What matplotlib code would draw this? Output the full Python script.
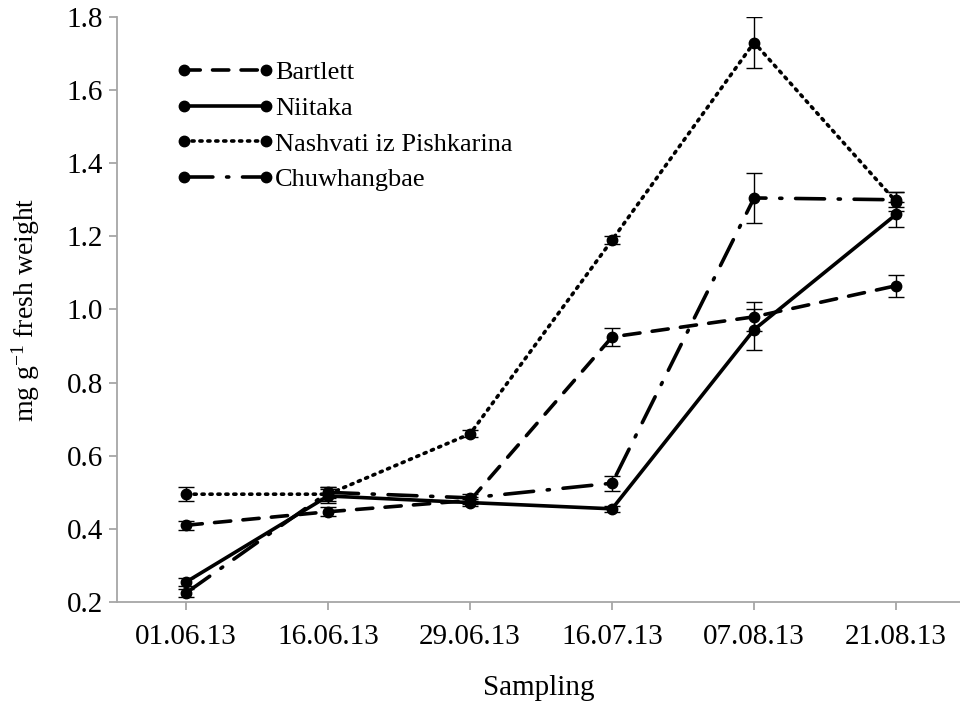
import matplotlib.pyplot as plt
import numpy as np

dates = ["01.06.13", "16.06.13", "29.06.13", "16.07.13", "07.08.13", "21.08.13"]

bartlett = [0.41, 0.447, 0.478, 0.925, 0.98, 1.065]
bartlett_err = [0.012, 0.012, 0.01, 0.025, 0.04, 0.03]

niitaka = [0.255, 0.49, 0.472, 0.455, 0.945, 1.26]
niitaka_err = [0.01, 0.02, 0.01, 0.008, 0.055, 0.035]

nashvati = [0.495, 0.495, 0.66, 1.19, 1.73, 1.295]
nashvati_err = [0.02, 0.02, 0.01, 0.01, 0.07, 0.025]

chuwhangbae = [0.225, 0.5, 0.485, 0.525, 1.305, 1.3]
chuwhangbae_err = [0.012, 0.015, 0.01, 0.02, 0.068, 0.02]

plt.rcParams["font.family"] = ["Liberation Serif", "DejaVu Serif"]
plt.rcParams["mathtext.fontset"] = "custom"
plt.rcParams["mathtext.rm"] = "Liberation Serif"
plt.rcParams["mathtext.it"] = "Liberation Serif:italic"
plt.rcParams["mathtext.bf"] = "Liberation Serif:bold"

fig = plt.figure(figsize=(9.6, 7.05), dpi=100)
ax = fig.add_axes([0.122, 0.146, 0.878, 0.83])

x = np.arange(len(dates))
series = [
    ("Bartlett", bartlett, bartlett_err, (0, (4.5, 3.4))),
    ("Niitaka", niitaka, niitaka_err, "-"),
    ("Nashvati iz Pishkarina", nashvati, nashvati_err, (0, (0.6, 1.6))),
    ("Chuwhangbae", chuwhangbae, chuwhangbae_err, (0, (8, 3.8, 0.6, 3.8))),
]

for name, vals, err, ls in series:
    ax.errorbar(x, vals, yerr=err, color="black", ecolor="black", elinewidth=1,
                capsize=6, capthick=1, zorder=2, fmt="none")
    ax.plot(x, vals, color="black", linestyle=ls, linewidth=2.6, marker="o",
            markersize=7.5, label=name, dash_capstyle="round", zorder=3)

ax.set_xlim(-0.486, 5.45)
ax.set_ylim(0.2, 1.8)
ax.set_yticks(np.arange(0.2, 1.81, 0.2))
ax.set_yticklabels([f"{v:.1f}" for v in np.arange(0.2, 1.81, 0.2)])
ax.set_xticks(x)
ax.set_xticklabels(dates)

for side in ["top", "right"]:
    ax.spines[side].set_visible(False)
for side in ["left", "bottom"]:
    ax.spines[side].set_color("#a6a6a6")
    ax.spines[side].set_linewidth(1.3)
ax.tick_params(axis="both", colors="#a6a6a6", length=6, width=1.3, labelsize=21,
               labelcolor="black")
ax.tick_params(axis="y", pad=4)
ax.tick_params(axis="x", pad=10)

ax.set_xlabel("Sampling", fontsize=21, labelpad=18)
ax.set_ylabel("mg g$^{\\mathregular{-1}}$ fresh weight", fontsize=20, labelpad=18)

ax.legend(loc="upper left", bbox_to_anchor=(0.07, 0.925), frameon=False, fontsize=19,
          numpoints=2, handlelength=3.7, handletextpad=0.05, labelspacing=0.46,
          borderaxespad=0, borderpad=0)

fig.savefig("out.png", dpi=100)
